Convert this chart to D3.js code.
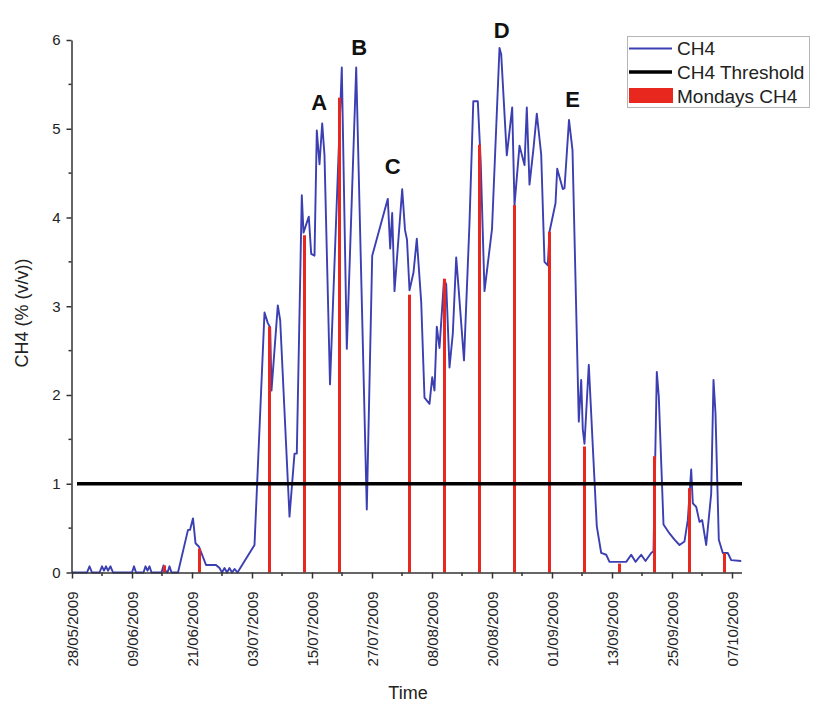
<!DOCTYPE html>
<html>
<head>
<meta charset="utf-8">
<script src="https://cdn.jsdelivr.net/npm/d3@7/dist/d3.min.js"></script>
<style>
  html, body { margin: 0; padding: 0; background: #fff; }
  svg { display: block; font-family: Arial, "Liberation Sans", Helvetica, sans-serif; }
</style>
</head>
<body>
<svg id="chart" width="815" height="712"></svg>
<script>
// ---------------- DATA ----------------
const startDateLabel = "28/05/2009";
const endDateLabel = "09/10/2009";
const xTickLabels = ["28/05/2009", "09/06/2009", "21/06/2009", "03/07/2009", "15/07/2009",
  "27/07/2009", "08/08/2009", "20/08/2009", "01/09/2009", "13/09/2009", "25/09/2009", "07/10/2009"];
const yTickValues = [0, 1, 2, 3, 4, 5, 6];

// CH4 series: time in days since 28/05/2009, value in % (v/v)
const ch4Day = [
  0, 3, 3.5, 4, 5.5, 6, 6.4, 6.8, 7.2, 7.7, 8.2, 12, 12.4, 12.8, 14.3, 14.7, 15.1, 15.5, 15.9,
  17.9, 18.3, 18.7, 19.1, 19.5, 19.9, 21.2, 23.2, 23.6, 24.2, 24.7, 25.4, 26.8, 28.8,
  29.5, 30, 30.5, 31, 31.5, 32, 32.5, 33.1, 36.5,
  38.5, 39.16, 39.64, 39.9, 41.16, 41.64, 43.5, 44.5, 44.96, 45.96, 46.3, 47.36, 47.84, 48.5,
  48.96, 49.5, 50.04, 50.5, 51.6, 53.96, 54.96, 56.84, 58.96, 60.04, 63.16, 63.64, 64.04, 64.5,
  66.04, 66.6, 67.0, 67.5, 68.3, 68.96, 69.84, 70.5, 71.5, 72.04, 72.5, 72.96, 73.5, 74.4, 74.84,
  75.5, 76.16, 76.84, 77.36, 78.4, 79.5, 80.26, 81.16, 81.74, 82.5, 84, 85.5, 85.84, 86.96,
  88.04, 88.5, 89.5, 90.5, 90.96, 91.5, 92.3, 92.96, 93.84, 94.5, 95.16, 95.5, 96.7, 97.04,
  98.16, 98.5, 99.4, 100.1, 101.36, 101.84, 102.16, 102.5, 103.36, 104.16, 104.96, 105.84,
  106.84, 107.5, 110.84, 111.84, 112.7, 113.84, 114.7, 115.84, 116.3, 116.96, 117.36, 118.3,
  119.5, 120.5, 121.5, 122.5, 123.16, 123.84, 124.16, 124.84, 125.5, 126.04, 126.84, 127.84,
  128.3, 128.7, 129.36, 130.16, 131.16, 131.84, 133.84
];
const ch4Value = [
  0, 0, 0.07, 0, 0, 0.07, 0.02, 0.07, 0.02, 0.07, 0, 0, 0.07, 0, 0, 0.07, 0.02, 0.07, 0,
  0, 0.08, 0.02, 0, 0.07, 0, 0, 0.48, 0.48, 0.61, 0.33, 0.29, 0.085, 0.085,
  0.05, 0.0, 0.05, 0.0, 0.05, 0.0, 0.04, 0, 0.31,
  2.93, 2.81, 2.76, 2.05, 3.01, 2.84, 0.63, 1.34, 1.34, 4.25, 3.83, 4.01, 3.59, 3.57,
  4.98, 4.60, 5.06, 4.70, 2.12, 5.69, 2.52, 5.69, 0.71, 3.57, 4.21, 3.65, 4.05, 3.17,
  4.32, 3.86, 3.75, 3.18, 3.38, 3.76, 3.05, 1.97, 1.90, 2.20, 2.05, 2.77, 2.53, 3.30, 3.25,
  2.31, 2.69, 3.55, 3.17, 2.39, 3.94, 5.31, 5.31, 4.63, 3.17, 3.87, 5.91, 5.84, 4.70,
  5.24, 4.14, 4.81, 4.59, 5.24, 4.37, 4.78, 5.17, 4.71, 3.50, 3.46, 3.84, 4.16, 4.55,
  4.32, 4.33, 5.10, 4.76, 1.70, 2.17, 1.61, 1.45, 2.34, 1.42, 0.52, 0.22,
  0.20, 0.12, 0.12, 0.20, 0.12, 0.20, 0.13, 0.22, 0.24, 2.26, 1.98, 0.54,
  0.44, 0.37, 0.31, 0.35, 0.59, 1.16, 0.78, 0.74, 0.57, 0.59, 0.31, 0.89,
  2.17, 1.79, 0.37, 0.22, 0.22, 0.14, 0.13
];

// Monday CH4 readings
const mondayDates = ["15/06/2009", "22/06/2009", "06/07/2009", "13/07/2009", "20/07/2009",
  "03/08/2009", "10/08/2009", "17/08/2009", "24/08/2009", "31/08/2009", "07/09/2009",
  "14/09/2009", "21/09/2009", "28/09/2009", "05/10/2009"];
const mondayValues = [0.08, 0.27, 2.77, 3.80, 5.35, 3.13, 3.31, 4.82, 4.14, 3.84, 1.42,
  0.10, 1.31, 0.95, 0.22];

const thresholdValue = 1;
const thresholdDates = ["29/05/2009", "09/10/2009"];

const peakLabels = ["A", "B", "C", "D", "E"];
const peakLabelDates = ["16/07/2009 10:00", "24/07/2009 10:00", "31/07/2009 03:00", "21/08/2009 22:00", "05/09/2009 03:00"];
const peakLabelValues = [5.21, 5.83, 4.49, 6.02, 5.25];

const legendLabels = ["CH4", "CH4 Threshold", "Mondays CH4"];

// ---------------- CHART ----------------
const parse = d3.timeParse("%d/%m/%Y");
const parseT = d3.timeParse("%d/%m/%Y %H:%M");
const start = parse(startDateLabel);
const end = parse(endDateLabel);

const svg = d3.select("#chart");
const x = d3.scaleTime().domain([start, end]).range([72, 742]);
const y = d3.scaleLinear().domain([0, 6]).range([572.5, 40]);

const axisColor = "#333";

const series = ch4Day.map((d, i) => ({
  t: new Date(start.getTime() + d * 864e5),
  v: ch4Value[i]
}));

// CH4 line
svg.append("path")
  .datum(series)
  .attr("fill", "none")
  .attr("stroke", "#3b3fb2")
  .attr("stroke-width", 1.9)
  .attr("stroke-linejoin", "round")
  .attr("d", d3.line().x(d => x(d.t)).y(d => y(d.v)));

// Monday bars (drawn at midday)
svg.append("g").selectAll("rect")
  .data(mondayDates.map((d, i) => ({ t: d3.timeHour.offset(parse(d), 12), v: mondayValues[i] })))
  .join("rect")
  .attr("x", d => x(d.t) - 1.5)
  .attr("width", 3)
  .attr("y", d => y(d.v))
  .attr("height", d => y(0) - y(d.v))
  .attr("fill", "#e8281e");

// Threshold line
svg.append("line")
  .attr("x1", x(parse(thresholdDates[0])))
  .attr("x2", x(parse(thresholdDates[1])))
  .attr("y1", y(thresholdValue))
  .attr("y2", y(thresholdValue))
  .attr("stroke", "#000")
  .attr("stroke-width", 3.5);

// Y axis
const yAxis = svg.append("g").attr("transform", "translate(71.5,0)")
  .call(d3.axisLeft(y).tickValues(yTickValues).tickFormat(d3.format("d")).tickSize(5).tickSizeOuter(0).tickPadding(6));
yAxis.select(".domain").attr("stroke", axisColor).attr("stroke-width", 1.5);
yAxis.selectAll(".tick line").attr("stroke", axisColor).attr("stroke-width", 1.5);
yAxis.selectAll(".tick text").attr("fill", "#222").attr("font-size", 15).attr("font-family", "Arial, 'Liberation Sans', sans-serif");
// y minor ticks
svg.append("g").selectAll("line")
  .data(d3.range(0.5, 6, 1))
  .join("line")
  .attr("x1", 68.5).attr("x2", 71.5)
  .attr("y1", d => y(d)).attr("y2", d => y(d))
  .attr("stroke", axisColor).attr("stroke-width", 1.5);

// X axis
const xTicks = xTickLabels.map(parse);
const xAxis = svg.append("g").attr("transform", "translate(0,572.5)")
  .call(d3.axisBottom(x).tickValues(xTicks).tickFormat(d3.timeFormat("%d/%m/%Y")).tickSize(6).tickSizeOuter(0).tickPadding(6));
xAxis.select(".domain").attr("stroke", axisColor).attr("stroke-width", 1.5).attr("d", `M${71}.5,0.5H${742}`);
xAxis.selectAll(".tick line").attr("stroke", axisColor).attr("stroke-width", 1.5);
xAxis.selectAll(".tick text")
  .attr("fill", "#222")
  .attr("font-size", 15)
  .attr("font-family", "Arial, 'Liberation Sans', sans-serif")
  .attr("text-anchor", "end")
  .attr("transform", "rotate(-90)")
  .attr("x", -19)
  .attr("y", 0)
  .attr("dy", "0.36em");
// x minor ticks
svg.append("g").selectAll("line")
  .data(xTicks.map(t => d3.timeDay.offset(t, 6)).filter(t => t < end))
  .join("line")
  .attr("x1", d => x(d)).attr("x2", d => x(d))
  .attr("y1", 572.5).attr("y2", 576)
  .attr("stroke", axisColor).attr("stroke-width", 1.5);

// Axis titles
svg.append("text")
  .attr("x", 408).attr("y", 699)
  .attr("text-anchor", "middle")
  .attr("font-size", 18).attr("fill", "#222")
  .text("Time");
svg.append("text")
  .attr("transform", "translate(28,313) rotate(-90)")
  .attr("text-anchor", "middle")
  .attr("font-size", 18).attr("fill", "#222")
  .text("CH4 (% (v/v))");

// Peak labels
svg.append("g").selectAll("text")
  .data(peakLabels.map((l, i) => ({ l, t: parseT(peakLabelDates[i]), v: peakLabelValues[i] })))
  .join("text")
  .attr("x", d => x(d.t))
  .attr("y", d => y(d.v))
  .attr("text-anchor", "middle")
  .attr("font-size", 22)
  .attr("font-weight", "bold")
  .attr("fill", "#111")
  .text(d => d.l);

// Legend
const lg = svg.append("g");
lg.append("rect")
  .attr("x", 627.5).attr("y", 36.5).attr("width", 182).attr("height", 71)
  .attr("fill", "#fff").attr("stroke", "#b5b5b5").attr("stroke-width", 1);
lg.append("line").attr("x1", 629).attr("x2", 672).attr("y1", 48.5).attr("y2", 48.5)
  .attr("stroke", "#3b3fb2").attr("stroke-width", 1.8);
lg.append("line").attr("x1", 629).attr("x2", 672).attr("y1", 72).attr("y2", 72)
  .attr("stroke", "#000").attr("stroke-width", 3.5);
lg.append("rect").attr("x", 629).attr("y", 88).attr("width", 44).attr("height", 15)
  .attr("fill", "#e8281e");
lg.selectAll("text.lab")
  .data(legendLabels)
  .join("text")
  .attr("class", "lab")
  .attr("x", 677)
  .attr("y", (d, i) => 55 + i * 24)
  .attr("font-size", 19)
  .attr("fill", "#222")
  .text(d => d);
</script>
</body>
</html>
